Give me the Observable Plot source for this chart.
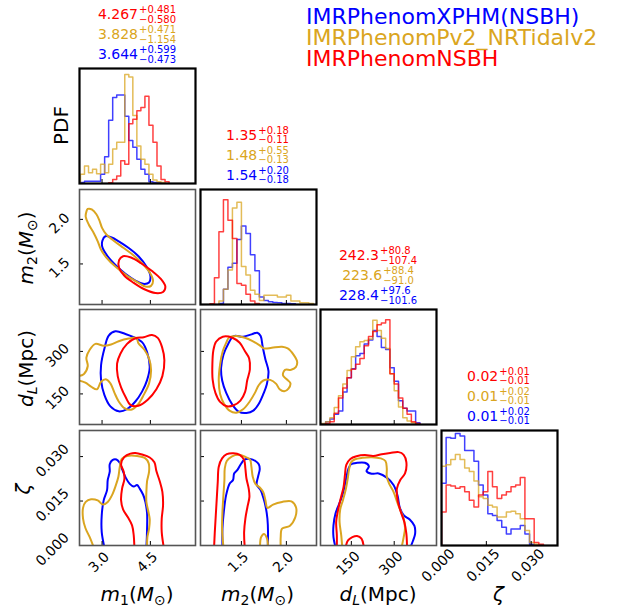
<!DOCTYPE html>
<html><head><meta charset="utf-8">
<script src="https://cdn.jsdelivr.net/npm/d3@7"></script>
<script src="https://cdn.jsdelivr.net/npm/@observablehq/plot@0.6"></script>
<style>
body{margin:0;background:#fff;}
#chart{position:relative;width:623px;height:614px;overflow:hidden;background:#fff;}
</style></head><body><div id="chart"></div>
<script>
// ---------- series ----------
const seriesNames = ["IMRPhenomXPHM(NSBH)", "IMRPhenomPv2_NRTidalv2", "IMRPhenomNSBH"];
const seriesColors = ["#0000ff", "#daa520", "#ff0000"]; // blue, gold, red

// ---------- axes ----------
const m1Domain = [2.3, 5.9];
const m2Domain = [1.045, 2.335];
const dLDomain = [42, 448];
const zetaDomain = [0, 0.0388];
const pdfDomain = [0, 340];
const m1Ticks = [3.0, 4.5], m1TickLabels = ["3.0", "4.5"];
const m2Ticks = [1.5, 2.0], m2TickLabels = ["1.5", "2.0"];
const dLTicks = [150, 300], dLTickLabels = ["150", "300"];
const zetaTicks = [0, 0.015, 0.030], zetaTickLabels = ["0.000", "0.015", "0.030"];

// ---------- 1D summaries (red, gold, blue) ----------
const m1Summary = [["4.267", "+0.481", "\u22120.580"], ["3.828", "+0.471", "\u22121.154"], ["3.644", "+0.599", "\u22120.473"]];
const m2Summary = [["1.35", "+0.18", "\u22120.11"], ["1.48", "+0.55", "\u22120.13"], ["1.54", "+0.20", "\u22120.18"]];
const dLSummary = [["242.3", "+80.8", "\u2212107.4"], ["223.6", "+88.4", "\u221291.0"], ["228.4", "+97.6", "\u2212101.6"]];
const zetaSummary = [["0.02", "+0.01", "\u22120.01"], ["0.01", "+0.02", "\u22120.01"], ["0.01", "+0.02", "\u22120.01"]];

// ---------- histograms (bin start, bin width, counts) ----------
const m1BinStart = 2.33, m1BinWidth = 0.125;
const histM1Blue = [3,7,7,7,7,27,79,187,254,262,262,199,127,107,72,42,27,5,3,2];
const histM1Gold = [27,52,32,42,29,57,32,57,102,122,122,322,315,201,111,72,57,27,10,5,3];
const histM1Red  = [0,0,0,0,0,0,0,2,12,22,67,57,177,190,215,225,258,172,122,52,12,5];

const m2BinStart = 1.05, m2BinWidth = 0.05;
const histM2Blue = [0,0,0,0,3,45,110,122,192,232,210,147,100,22,12,8,6,5,3,3,2];
const histM2Gold = [0,0,0,0,10,45,102,285,302,112,87,42,30,12,27,27,27,22,22,27,10,10,5,5,3];
const histM2Red  = [0,0,2,79,215,310,249,195,62,57,30,10,3];

const dLBinStart = 45, dLBinWidth = 15;
const histDLBlue = [2,8,16,30,40,96,138,165,203,210,238,250,278,260,228,222,168,128,70,48,40,40,5];
const histDLGold = [3,8,20,50,85,120,160,200,230,245,248,253,308,278,255,225,150,100,52,20,10,5];
const histDLRed  = [0,3,8,33,78,108,138,163,178,195,233,260,275,295,300,310,150,120,78,48,30,8,3];

const zetaBinStart = 0, zetaBinWidth = 0.00155;
const histZetaBlue = [184,319,317,331,324,281,281,249,179,149,94,89,74,54,34,49,49,59,34,4];
const histZetaGold = [234,239,254,269,254,229,219,191,144,139,119,114,84,84,99,101,94,79,44,9,4];
const histZetaRed  = [99,179,176,169,174,159,134,114,149,159,219,174,139,149,159,174,179,201,79,79,9,4];

// ---------- 2D contours ----------
// m1 vs m2
const cM1M2Blue = [[3.103,1.811],[3.279,1.799],[3.517,1.754],[3.828,1.678],[4.138,1.583],[4.376,1.470],[4.500,1.367],[4.459,1.292],[4.272,1.277],[4.034,1.314],[3.724,1.390],[3.414,1.489],[3.155,1.595],[3.010,1.686],[3.010,1.761]];
const cM1M2Gold = [[2.555,2.117],[2.690,2.110],[2.824,2.057],[2.917,1.989],[3.000,1.905],[3.134,1.830],[3.362,1.761],[3.672,1.678],[3.983,1.595],[4.272,1.496],[4.479,1.405],[4.583,1.314],[4.521,1.254],[4.345,1.246],[4.086,1.299],[3.776,1.367],[3.414,1.470],[3.134,1.572],[2.969,1.659],[2.866,1.754],[2.741,1.848],[2.586,1.943],[2.493,2.027],[2.514,2.087]];
const cM1M2Red = [[3.652,1.587],[3.900,1.572],[4.210,1.508],[4.552,1.420],[4.831,1.330],[4.965,1.246],[4.893,1.186],[4.655,1.174],[4.314,1.216],[3.983,1.288],[3.693,1.367],[3.528,1.458],[3.528,1.542]];
// m1 vs dL
const cM1DLBlue = [[3.414,370.9],[3.724,361.6],[3.983,350.0],[4.241,332.6],[4.397,297.7],[4.479,245.3],[4.397,198.8],[4.241,158.1],[4.034,123.3],[3.776,96.5],[3.517,88.4],[3.259,105.8],[3.072,146.5],[2.969,198.8],[2.969,251.2],[3.072,309.3],[3.207,355.8]];
const cM1DLGold = [[2.245,212.8],[2.431,219.8],[2.555,247.7],[2.514,277.9],[2.617,305.8],[2.793,326.7],[3.052,319.8],[3.279,324.4],[3.517,336.0],[3.828,345.3],[4.066,347.7],[4.128,329.1],[4.314,305.8],[4.459,274.4],[4.521,233.7],[4.459,187.2],[4.293,146.5],[4.107,111.6],[3.900,94.2],[3.693,100.0],[3.517,123.3],[3.383,154.7],[3.259,187.2],[3.134,201.2],[2.969,193.0],[2.845,166.3],[2.659,175.6],[2.483,189.5],[2.245,198.8]];
const cM1DLRed = [[4.034,346.5],[4.293,350.0],[4.552,358.1],[4.728,347.7],[4.862,315.1],[4.934,268.6],[4.872,212.8],[4.686,166.3],[4.417,129.1],[4.128,108.1],[3.879,111.6],[3.734,138.4],[3.590,173.3],[3.486,212.8],[3.466,257.0],[3.569,291.9],[3.776,326.7]];
// m1 vs zeta
const cM1ZBlue = [[3.072,-0.0006],[2.990,0.0045],[2.990,0.0102],[3.052,0.0153],[3.155,0.0187],[3.176,0.0221],[3.238,0.0249],[3.238,0.0274],[3.321,0.0288],[3.445,0.0290],[3.548,0.0279],[3.631,0.0255],[3.734,0.0229],[3.859,0.0208],[3.983,0.0199],[4.086,0.0204],[4.169,0.0192],[4.272,0.0172],[4.345,0.0147],[4.397,0.0108],[4.397,0.0057],[4.376,-0.0006]];
const cM1ZGold = [[2.741,-0.0006],[2.617,0.0028],[2.483,0.0059],[2.410,0.0091],[2.410,0.0127],[2.493,0.0147],[2.659,0.0156],[2.866,0.0152],[3.031,0.0138],[3.176,0.0147],[3.310,0.0170],[3.424,0.0202],[3.507,0.0232],[3.548,0.0263],[3.610,0.0292],[3.776,0.0302],[4.086,0.0302],[4.345,0.0294],[4.448,0.0277],[4.459,0.0249],[4.397,0.0217],[4.376,0.0181],[4.376,0.0147],[4.428,0.0119],[4.479,0.0088],[4.459,0.0057],[4.407,0.0028],[4.397,-0.0006]];
const cM1ZRed = [[4.003,-0.0006],[3.983,0.0034],[3.931,0.0068],[3.797,0.0096],[3.652,0.0122],[3.590,0.0153],[3.621,0.0192],[3.693,0.0224],[3.672,0.0249],[3.590,0.0274],[3.693,0.0299],[3.879,0.0310],[4.034,0.0312],[4.241,0.0307],[4.479,0.0297],[4.624,0.0281],[4.686,0.0251],[4.790,0.0217],[4.872,0.0181],[4.893,0.0136],[4.852,0.0091],[4.852,0.0045],[4.914,-0.0006]];
// m2 vs dL
const cM2DLBlue = [[1.414,354.3],[1.519,352.0],[1.613,360.2],[1.677,366.1],[1.714,354.3],[1.737,315.4],[1.767,271.7],[1.801,230.3],[1.782,183.1],[1.744,150.0],[1.692,114.6],[1.632,91.0],[1.556,82.7],[1.474,86.2],[1.399,112.2],[1.331,153.6],[1.286,197.3],[1.274,242.1],[1.301,289.4],[1.350,324.8]];
const cM2DLGold = [[1.361,348.4],[1.444,354.3],[1.538,348.4],[1.624,336.6],[1.699,322.4],[1.752,310.6],[1.838,313.0],[1.951,316.5],[2.015,310.6],[2.083,287.0],[2.120,263.4],[2.105,244.5],[2.053,235.0],[1.985,235.0],[1.962,216.1],[2.007,200.8],[2.045,187.8],[2.023,168.9],[1.977,159.5],[1.925,166.5],[1.887,185.4],[1.820,199.6],[1.744,197.3],[1.692,180.7],[1.650,153.6],[1.594,124.0],[1.519,95.7],[1.444,83.9],[1.368,91.0],[1.308,114.6],[1.263,150.0],[1.248,197.3],[1.263,253.9],[1.293,301.2],[1.331,330.7]];
const cM2DLRed = [[1.188,303.5],[1.218,334.2],[1.293,352.0],[1.399,348.4],[1.481,330.7],[1.538,301.2],[1.586,275.2],[1.594,236.2],[1.564,197.3],[1.541,157.1],[1.489,126.4],[1.414,109.9],[1.338,106.3],[1.263,121.7],[1.211,153.6],[1.180,200.8],[1.177,253.9]];
// m2 vs zeta
const cM2ZBlue = [[1.289,-0.0006],[1.289,0.0057],[1.304,0.0113],[1.330,0.0170],[1.370,0.0209],[1.407,0.0221],[1.419,0.0243],[1.456,0.0255],[1.493,0.0274],[1.530,0.0289],[1.596,0.0292],[1.656,0.0285],[1.693,0.0274],[1.704,0.0258],[1.685,0.0232],[1.670,0.0206],[1.715,0.0186],[1.744,0.0161],[1.770,0.0130],[1.789,0.0091],[1.796,0.0045],[1.793,-0.0006]];
const cM2ZGold = [[1.300,-0.0006],[1.285,0.0057],[1.289,0.0113],[1.300,0.0170],[1.311,0.0221],[1.315,0.0260],[1.337,0.0285],[1.396,0.0301],[1.470,0.0306],[1.544,0.0299],[1.596,0.0290],[1.611,0.0266],[1.626,0.0232],[1.656,0.0208],[1.707,0.0195],[1.744,0.0179],[1.767,0.0153],[1.789,0.0127],[1.852,0.0138],[1.952,0.0147],[2.056,0.0149],[2.107,0.0129],[2.100,0.0096],[2.037,0.0066],[1.952,0.0057],[1.937,0.0028],[1.937,-0.0006]];
const cM2ZGold2 = [[1.707,-0.0006],[1.719,0.0028],[1.752,0.0039],[1.785,0.0023],[1.796,-0.0006]];
const cM2ZRed = [[1.196,-0.0006],[1.204,0.0045],[1.215,0.0102],[1.226,0.0159],[1.237,0.0215],[1.248,0.0266],[1.285,0.0294],[1.337,0.0308],[1.411,0.0311],[1.481,0.0306],[1.530,0.0289],[1.544,0.0260],[1.556,0.0226],[1.581,0.0192],[1.589,0.0164],[1.567,0.0130],[1.544,0.0091],[1.530,0.0045],[1.537,-0.0006]];
// dL vs zeta
const cDLZBlue = [[94.5,-0.0006],[87.4,0.0028],[87.4,0.0068],[94.5,0.0108],[106.3,0.0138],[118.1,0.0168],[125.2,0.0195],[132.3,0.0229],[139.4,0.0258],[148.8,0.0274],[170.1,0.0279],[197.2,0.0279],[211.4,0.0267],[203.1,0.0251],[220.9,0.0242],[245.7,0.0243],[274.0,0.0229],[297.6,0.0204],[311.8,0.0168],[318.9,0.0130],[333.1,0.0102],[354.3,0.0088],[370.8,0.0066],[373.2,0.0040],[366.1,0.0017],[356.7,-0.0006]];
const cDLZGold = [[118.1,-0.0006],[114.6,0.0034],[108.7,0.0079],[111.0,0.0122],[120.5,0.0153],[129.9,0.0187],[137.0,0.0224],[141.7,0.0255],[148.8,0.0281],[163.0,0.0291],[189.0,0.0296],[222.0,0.0298],[252.7,0.0294],[269.3,0.0285],[274.0,0.0260],[274.0,0.0232],[283.5,0.0206],[297.6,0.0181],[309.4,0.0149],[321.2,0.0119],[333.1,0.0091],[337.8,0.0059],[333.1,0.0028],[326.0,-0.0006]];
const cDLZRed = [[99.2,-0.0006],[99.2,0.0034],[96.9,0.0079],[103.9,0.0122],[113.4,0.0161],[122.8,0.0198],[127.6,0.0238],[132.3,0.0272],[146.5,0.0292],[167.7,0.0301],[197.2,0.0305],[226.8,0.0302],[256.3,0.0308],[285.8,0.0312],[315.3,0.0315],[333.1,0.0306],[342.5,0.0281],[337.8,0.0243],[321.2,0.0221],[309.4,0.0192],[311.8,0.0153],[321.2,0.0119],[335.4,0.0079],[342.5,0.0040],[344.9,-0.0006]];
const cDLZRed2 = [[129.9,-0.0006],[138.2,0.0017],[153.5,0.0028],[170.1,0.0032],[185.4,0.0023],[193.7,-0.0006]];

// ---------- layout ----------
const W = 623, H = 614;
const colLeft = [79, 199.5, 320, 440.5];
const rowTop = [68, 188.5, 309, 429.5];
const PW = 116, PH = 115;
const FONT = "DejaVu Sans";
const [BLUE, GOLD, RED] = seriesColors;

const chart = document.getElementById("chart");

function histPoints(counts, start, width) {
  const first = counts.findIndex(c => c > 0);
  const pts = [[start + first * width, 0]];
  for (let i = first; i < counts.length; i++) pts.push([start + i * width, counts[i]]);
  pts.push([start + counts.length * width, 0]);
  return pts;
}

const axes = [
  {domain: m1Domain, ticks: m1Ticks, labels: m1TickLabels, xdy: 20, ydx: -20},
  {domain: m2Domain, ticks: m2Ticks, labels: m2TickLabels, xdy: 20, ydx: -20},
  {domain: dLDomain, ticks: dLTicks, labels: dLTickLabels, xdy: 21, ydx: -22},
  {domain: zetaDomain, ticks: zetaTicks, labels: zetaTickLabels, xdy: 23, ydx: -27}
];
const hists = [
  {start: m1BinStart, width: m1BinWidth, series: [histM1Blue, histM1Gold, histM1Red]},
  {start: m2BinStart, width: m2BinWidth, series: [histM2Blue, histM2Gold, histM2Red]},
  {start: dLBinStart, width: dLBinWidth, series: [histDLBlue, histDLGold, histDLRed]},
  {start: zetaBinStart, width: zetaBinWidth, series: [histZetaBlue, histZetaGold, histZetaRed]}
];
// contours[row][col] -> list of [data, color, closed]
const contours = {
  "1,0": [[cM1M2Blue, BLUE, true], [cM1M2Gold, GOLD, true], [cM1M2Red, RED, true]],
  "2,0": [[cM1DLBlue, BLUE, true], [cM1DLGold, GOLD, false], [cM1DLRed, RED, true]],
  "3,0": [[cM1ZBlue, BLUE, false], [cM1ZGold, GOLD, false], [cM1ZRed, RED, false]],
  "2,1": [[cM2DLBlue, BLUE, true], [cM2DLGold, GOLD, true], [cM2DLRed, RED, true]],
  "3,1": [[cM2ZBlue, BLUE, false], [cM2ZGold, GOLD, false], [cM2ZGold2, GOLD, false], [cM2ZRed, RED, false]],
  "3,2": [[cDLZBlue, BLUE, false], [cDLZGold, GOLD, false], [cDLZRed, RED, false], [cDLZRed2, RED, false]]
};

function panel(r, c) {
  const diag = r === c;
  const xa = axes[c];
  const ya = diag ? null : axes[r];
  const marks = [];
  if (diag) {
    const h = hists[c];
    h.series.forEach((counts, k) => {
      marks.push(Plot.line(histPoints(counts, h.start, h.width), {
        x: d => d[0], y: d => d[1], curve: "step-after",
        stroke: seriesColors[k], strokeWidth: 1.5, strokeOpacity: 0.75, clip: true
      }));
    });
  } else {
    for (const [data, color, closed] of contours[r + "," + c]) {
      marks.push(Plot.line(data, {
        x: d => d[0], y: d => d[1],
        curve: closed ? "catmull-rom-closed" : "catmull-rom",
        stroke: color, strokeWidth: 2, clip: true
      }));
    }
  }
  // inward ticks
  marks.push(Plot.tickX(xa.ticks, {x: d => d, insetTop: PH - 4, stroke: "#000", strokeWidth: 1}));
  if (!diag) marks.push(Plot.tickY(ya.ticks, {y: d => d, insetRight: PW - 4, stroke: "#000", strokeWidth: 1}));
  // tick labels
  if (r === 3) {
    marks.push(Plot.text(xa.ticks, {
      x: d => d, text: (d, i) => xa.labels[i], frameAnchor: "bottom",
      rotate: -45, textAnchor: "middle", dy: xa.xdy, fontSize: 14, fill: "#000"
    }));
  }
  if (c === 0 && r > 0) {
    marks.push(Plot.text(ya.ticks, {
      y: d => d, text: (d, i) => ya.labels[i], frameAnchor: "left",
      rotate: -45, textAnchor: "middle", dx: ya.ydx, dy: 4, fontSize: 14, fill: "#000"
    }));
  }
  marks.push(Plot.frame({stroke: diag ? "#000" : "#555", strokeWidth: diag ? 2.2 : 1.6}));
  const svg = Plot.plot({
    width: PW, height: PH, margin: 0,
    style: {background: "transparent", overflow: "visible", fontFamily: FONT, position: "absolute",
            left: colLeft[c] + "px", top: rowTop[r] + "px", maxWidth: "none"},
    x: {domain: xa.domain, axis: null},
    y: {domain: diag ? pdfDomain : ya.domain, axis: null},
    marks
  });
  chart.appendChild(svg);
}

for (let r = 0; r < 4; r++) for (let c = 0; c <= r; c++) panel(r, c);

// ---------- text overlay ----------
const overlay = d3.select(chart).append("svg")
  .attr("width", W).attr("height", H)
  .style("position", "absolute").style("left", "0px").style("top", "0px").style("overflow", "visible")
  .attr("font-family", FONT);

function mathText(g, parts, fontSize) {
  const t = g.append("text").attr("font-size", fontSize).attr("text-anchor", "middle").attr("fill", "#000");
  let shift = 0;
  for (const p of parts) {
    const target = p.sub ? fontSize * 0.22 : 0;
    const ts = t.append("tspan").text(p.t).attr("dy", target - shift);
    if (p.it) ts.attr("font-style", "italic");
    if (p.sub) ts.attr("font-size", fontSize * 0.7);
    shift = target;
  }
  return t;
}
const labM1 = [{t: "m", it: true}, {t: "1", sub: true}, {t: "("}, {t: "M", it: true}, {t: "\u2299", sub: true}, {t: ")"}];
const labM2 = [{t: "m", it: true}, {t: "2", sub: true}, {t: "("}, {t: "M", it: true}, {t: "\u2299", sub: true}, {t: ")"}];
const labDL = [{t: "d", it: true}, {t: "L", it: true, sub: true}, {t: "(Mpc)"}];
const labZeta = [{t: "\u03b6", it: true}];
const xLabels = [labM1, labM2, labDL, labZeta];
xLabels.forEach((parts, c) => {
  mathText(overlay.append("g").attr("transform", `translate(${colLeft[c] + PW / 2},601)`), parts, 20);
});
// y labels
overlay.append("text").attr("transform", `translate(68,${rowTop[0] + PH / 2}) rotate(-90)`)
  .attr("text-anchor", "middle").attr("font-size", 20).text("PDF");
[[labM2, 1, 33], [labDL, 2, 33], [labZeta, 3, 30]].forEach(([parts, r, x]) => {
  mathText(overlay.append("g").attr("transform", `translate(${x},${rowTop[r] + PH / 2 + 2}) rotate(-90)`), parts, 20);
});

// summaries above the diagonal
const summaries = [m1Summary, m2Summary, dLSummary, zetaSummary];
const summaryColors = [RED, GOLD, BLUE];
summaries.forEach((rows, c) => {
  const cx = colLeft[c] + PW / 2;
  rows.forEach((s, k) => {
    const y = rowTop[c] - 49 + k * 20;
    const g = overlay.append("g").attr("fill", summaryColors[k]);
    const main = g.append("text").attr("font-size", 14).attr("y", y).text(s[0]);
    const sup = g.append("text").attr("font-size", 10).attr("y", y - 5.7).text(s[1]);
    const sub = g.append("text").attr("font-size", 10).attr("y", y + 3.7).text(s[2]);
    const wm = main.node().getComputedTextLength();
    const ws = Math.max(sup.node().getComputedTextLength(), sub.node().getComputedTextLength());
    const x0 = cx - (wm + 1 + ws) / 2;
    main.attr("x", x0);
    sup.attr("x", x0 + wm + 1);
    sub.attr("x", x0 + wm + 1);
  });
});

// legend
seriesNames.forEach((name, k) => {
  overlay.append("text").attr("x", 306).attr("y", 24 + k * 21).attr("font-size", 22)
    .attr("fill", seriesColors[k]).text(name);
});
</script></body></html>
